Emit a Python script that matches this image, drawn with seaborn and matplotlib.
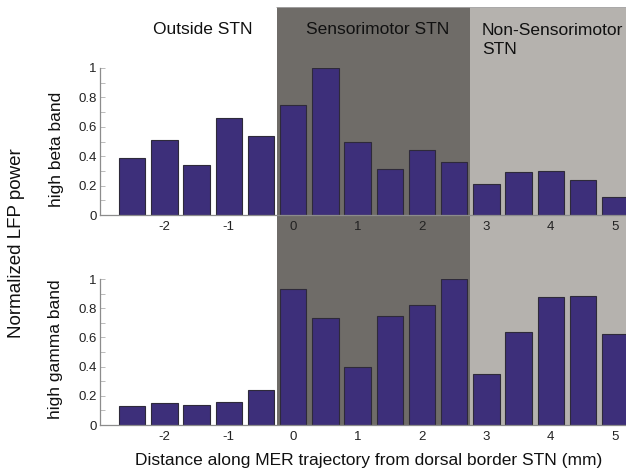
import numpy as np
import pandas as pd
import matplotlib
matplotlib.use("Agg")
import matplotlib.pyplot as plt
import seaborn as sns

# ---- data ----
positions = [-2.5, -2.0, -1.5, -1.0, -0.5, 0.0, 0.5, 1.0, 1.5, 2.0, 2.5, 3.0, 3.5, 4.0, 4.5, 5.0]
high_beta = [0.39, 0.51, 0.34, 0.66, 0.54, 0.75, 1.00, 0.50, 0.31, 0.44, 0.36, 0.21, 0.29, 0.30, 0.24, 0.12]
high_gamma = [0.13, 0.15, 0.14, 0.155, 0.24, 0.93, 0.735, 0.40, 0.75, 0.82, 1.00, 0.35, 0.635, 0.88, 0.885, 0.62]
xticks = [-2, -1, 0, 1, 2, 3, 4, 5]
xtick_labels = ["-2", "-1", "0", "1", "2", "3", "4", "5"]
yticks = [0, 0.2, 0.4, 0.6, 0.8, 1.0]
ytick_labels = ["0", "0.2", "0.4", "0.6", "0.8", "1"]
region_names = ["Outside STN", "Sensorimotor STN", "Non-Sensorimotor\nSTN"]
sensorimotor_span = (-0.25, 2.75)
nonsensorimotor_span = (2.75, 5.5)

sns.set_theme(style="white")
plt.rcParams["font.family"] = ["Liberation Sans", "DejaVu Sans"]

W, H = 626, 471
fig = plt.figure(figsize=(W / 100, H / 100), dpi=100)

def fx(px):
    return px / W

def fy(py):
    return 1 - py / H

x0_px, px_per_mm = 100, 64.4
xlim = (-3, -3 + (W - x0_px) / px_per_mm)

bar_color = "#3d2f7a"
edge_color = "#2e2a3a"
spine_color = "#8c8c8c"
dark_gray = "#6f6c68"
light_gray = "#b5b2ae"

# background region shading spanning both panels
bg = fig.add_axes([fx(x0_px), fy(425), fx(W - x0_px), (425 - 7) / H])
bg.set_xlim(*xlim)
bg.set_ylim(0, 1)
bg.axvspan(*sensorimotor_span, color=dark_gray, lw=0)
bg.axvspan(*nonsensorimotor_span, color=light_gray, lw=0)
bg.axhline(1, color="#a8a8a8", lw=1.2, xmin=(sensorimotor_span[0] - xlim[0]) / (xlim[1] - xlim[0]))
bg.axis("off")

def panel(rect, values, ylabel_text, ylabel_xy):
    ax = fig.add_axes(rect)
    ax.set_facecolor("none")
    df = pd.DataFrame({"pos": positions, "val": values})
    sns.barplot(data=df, x="pos", y="val", native_scale=True, width=0.82,
                color=bar_color, saturation=1, edgecolor=edge_color,
                linewidth=0.8, errorbar=None, ax=ax)
    ax.set_xlim(*xlim)
    ax.set_ylim(0, 1)
    ax.set_xlabel("")
    ax.set_ylabel("")
    ax.set_xticks(xticks)
    ax.set_xticklabels(xtick_labels, fontsize=9.5, color="#222222")
    ax.set_yticks(yticks)
    ax.set_yticklabels(ytick_labels, fontsize=9.5, color="#222222")
    ax.set_yticks(np.arange(0.1, 1.0, 0.2), minor=True)
    ax.tick_params(axis="x", length=0, pad=4)
    ax.tick_params(axis="y", which="both", direction="in", length=3.5,
                   width=0.6, color="#b0b0b0", pad=2.5, left=True)
    for s in ["top", "right"]:
        ax.spines[s].set_visible(False)
    for s in ["left", "bottom"]:
        ax.spines[s].set_color(spine_color)
        ax.spines[s].set_linewidth(0.9)
    fig.text(fx(ylabel_xy[0]), fy(ylabel_xy[1]), ylabel_text, rotation=90,
             ha="center", va="center", fontsize=12.5, color="#111111")
    return ax

ax_top = panel([fx(x0_px), fy(215), fx(W - x0_px), 147 / H], high_beta,
               "high beta band", (56, 149))
ax_bot = panel([fx(x0_px), fy(425), fx(W - x0_px), 146 / H], high_gamma,
               "high gamma band", (56, 349))

# region titles
fig.text(fx(203), fy(29), region_names[0], ha="center", va="center", fontsize=12.5, color="#111111")
fig.text(fx(378), fy(29), region_names[1], ha="center", va="center", fontsize=12.5, color="#111111")
fig.text(fx(482), fy(54), region_names[2], ha="left", va="baseline", fontsize=12.5,
         color="#111111", linespacing=1.3)

fig.text(fx(17), fy(243), "Normalized LFP power", rotation=90, ha="center", va="center",
         fontsize=13.5, color="#111111")
fig.text(fx(369), fy(460), "Distance along MER trajectory from dorsal border STN (mm)",
         ha="center", va="center", fontsize=12.5, color="#111111")

fig.savefig("out.png", dpi=100)
